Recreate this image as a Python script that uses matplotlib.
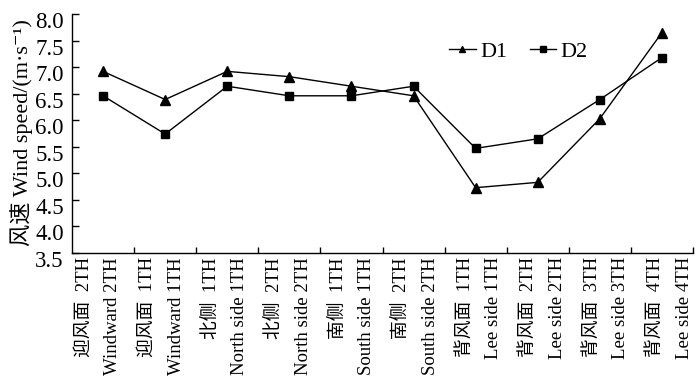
import matplotlib
matplotlib.use("Agg")
import matplotlib.pyplot as plt
from matplotlib.transforms import ScaledTranslation

plt.rcParams['font.family'] = ['Liberation Serif', 'Noto Sans CJK SC', 'DejaVu Serif']

categories_cn = ["迎风面  2TH", "迎风面  1TH", "北侧  1TH", "北侧  2TH", "南侧  1TH",
                 "南侧  2TH", "背风面  1TH", "背风面  2TH", "背风面  3TH", "背风面  4TH"]
categories_en = ["Windward 2TH", "Windward 1TH", "North side 1TH", "North side 2TH",
                 "South side 1TH", "South side 2TH", "Lee side 1TH", "Lee side 2TH",
                 "Lee side 3TH", "Lee side 4TH"]
d1 = [6.92, 6.39, 6.92, 6.82, 6.64, 6.46, 4.73, 4.83, 6.03, 7.65]
d2 = [6.46, 5.74, 6.64, 6.46, 6.46, 6.64, 5.47, 5.65, 6.39, 7.18]
yticks = [3.5, 4.0, 4.5, 5.0, 5.5, 6.0, 6.5, 7.0, 7.5, 8.0]

W, H = 700, 383
fig = plt.figure(figsize=(7, 3.83), dpi=100)
ax = fig.add_axes([72 / W, 1 - 253 / H, 621 / W, 239 / H])

x = list(range(len(d1)))
ax.plot(x, d1, color='black', lw=1.0, marker='^', ms=6.5, label='D1')
ax.plot(x, d2, color='black', lw=1.0, marker='s', ms=6, label='D2')

ax.set_xlim(-0.5, len(d1) - 0.5)
ax.set_ylim(3.5, 8.0)
ax.set_yticks(yticks)
ax.set_yticklabels([f"{v:.1f}" for v in yticks], fontsize=16.5)
ax.set_xticks([i + 0.5 for i in range(len(d1))])
ax.set_xticklabels([])
ax.tick_params(axis='both', which='major', direction='in', length=5, width=1,
               color='black')
ax.tick_params(axis='x', which='major', length=4)
ax.tick_params(axis='y', pad=6)
for s in ['top', 'right']:
    ax.spines[s].set_visible(False)
for s in ['left', 'bottom']:
    ax.spines[s].set_linewidth(1.0)

off = ScaledTranslation(0, -6 / 100, fig.dpi_scale_trans)
for lab in ax.get_yticklabels():
    lab.set_transform(lab.get_transform() + off)

ax.set_ylabel("风速 Wind speed/(m·s⁻¹)", fontsize=16)
ax.yaxis.set_label_coords(-0.062, 0.505)

ax.legend(loc='upper left', bbox_to_anchor=(0.575, 0.97), ncol=2, frameon=False,
          fontsize=16, handlelength=1.2, handletextpad=0.2, columnspacing=1.0,
          markerscale=0.75)

# category label strip (labels in the original are spread slightly wider than the plot)
lax = fig.add_axes([66.75 / W, 1 - 253 / H, 635 / W, 0.001])
lax.set_xlim(-0.5, len(d1) - 0.5)
lax.set_ylim(0, 1)
lax.patch.set_visible(False)
for s in lax.spines.values():
    s.set_visible(False)
lax.set_yticks([])
lax.set_xticks(x)
lax.set_xticklabels([f"{c}\n{e}" for c, e in zip(categories_cn, categories_en)],
                    rotation=90, fontsize=13.5, multialignment='right',
                    linespacing=1.9)
lax.tick_params(axis='x', length=0, pad=3)

fig.savefig("out.png", dpi=100)
